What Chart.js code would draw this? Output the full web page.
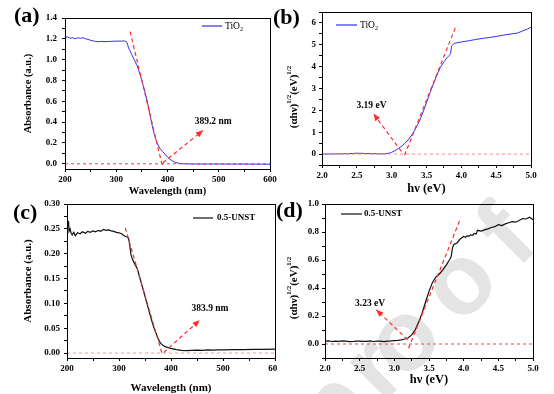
<!DOCTYPE html>
<html>
<head>
<meta charset="utf-8">
<script src="https://cdn.jsdelivr.net/npm/chart.js@4.4.1/dist/chart.umd.min.js"></script>
<style>
    body { margin: 0; background: #fff; }
    #wrap { position: relative; width: 554px; height: 394px; overflow: hidden; }
    canvas { position: absolute; }
</style>
</head>
<body>
<div id="wrap">
    <canvas id="cA" width="280" height="197" style="left:0px;top:0px"></canvas>
    <canvas id="cB" width="282" height="197" style="left:272px;top:0px"></canvas>
    <canvas id="cC" width="277" height="197" style="left:0px;top:197px"></canvas>
    <canvas id="cD" width="279" height="197" style="left:275px;top:197px"></canvas>
</div>
<script>
    // (a) TiO2 absorbance
    var waveA = [200, 205, 210, 215, 220, 225, 230, 235, 240, 245, 250, 255, 260, 265, 270, 280, 290, 300, 310, 316,
        320, 322, 324, 327, 330, 335, 340, 345, 350, 355, 360, 365, 370, 375, 380, 385, 390, 395, 400, 405,
        410, 415, 420, 425, 430, 440, 460, 480, 500, 530, 560, 600];
    var absA = [1.21, 1.22, 1.205, 1.21, 1.2, 1.21, 1.205, 1.21, 1.2, 1.195, 1.185, 1.18, 1.175, 1.172, 1.175, 1.173, 1.176, 1.178, 1.178, 1.18,
        1.172, 1.15, 1.11, 1.085, 1.05, 1.0, 0.95, 0.88, 0.80, 0.71, 0.61, 0.495, 0.37, 0.27, 0.195, 0.15, 0.12, 0.092, 0.065, 0.043,
        0.026, 0.014, 0.007, 0.003, 0.001, -0.001, -0.002, -0.002, -0.002, -0.003, -0.003, -0.004];
    var tangentA = [[327, 1.27], [390, -0.02]];
    var arrowA = [[391, 0.01], [469, 0.32]];
    var baseA = [[200, 0], [600, 0]];
    var noteA = [489, 0.41, '389.2 nm'];

    // (b) TiO2 Tauc plot
    var hvB = [2.0, 2.1, 2.2, 2.3, 2.4, 2.5, 2.6, 2.7, 2.8, 2.9, 2.95, 3.0, 3.05, 3.1, 3.15, 3.2, 3.25, 3.3, 3.35, 3.4,
        3.45, 3.5, 3.55, 3.6, 3.65, 3.7, 3.75, 3.8, 3.83, 3.845, 3.86, 3.9, 3.95, 4.0, 4.1, 4.2, 4.3, 4.4, 4.5, 4.6,
        4.7, 4.8, 4.9, 4.95, 5.0];
    var tauB = [0, 0, 0.01, 0.01, 0.02, 0.04, 0.03, 0.02, 0.01, 0.01, 0.03, 0.08, 0.16, 0.26, 0.38, 0.52, 0.7, 0.93, 1.2, 1.52,
        1.92, 2.35, 2.8, 3.22, 3.62, 3.97, 4.22, 4.43, 4.52, 4.6, 4.95, 5.06, 5.1, 5.13, 5.18, 5.24, 5.29, 5.33, 5.38, 5.44,
        5.49, 5.53, 5.66, 5.72, 5.8];
    var tangentB = [[3.185, -0.05], [3.92, 5.83]];
    var arrowB = [[3.14, 0.12], [2.74, 1.84]];
    var baseB = [[2.0, 0], [5.0, 0]];
    var noteB = [2.71, 2.22, '3.19 eV'];

    // (c) 0.5-UNST absorbance
    var waveC = [200, 201, 202, 203, 204, 206, 208, 210, 213, 216, 220, 225, 230, 235, 240, 245, 250, 255, 260, 265,
        270, 275, 280, 285, 290, 295, 300, 305, 310, 314, 317, 319, 321, 323, 326, 330, 335, 340, 345, 350,
        355, 360, 365, 370, 375, 378, 381, 385, 390, 395, 400, 410, 420, 430, 440, 450, 460, 470, 480, 490,
        500, 520, 540, 560, 580, 600];
    var absC = [0.248, 0.262, 0.255, 0.266, 0.245, 0.250, 0.241, 0.238, 0.243, 0.236, 0.242, 0.240, 0.244, 0.241, 0.245, 0.243, 0.246, 0.244, 0.247, 0.245,
        0.249, 0.247, 0.248, 0.246, 0.245, 0.243, 0.242, 0.240, 0.236, 0.234, 0.233, 0.228, 0.214, 0.198, 0.188, 0.180, 0.170, 0.152, 0.133, 0.114,
        0.095, 0.076, 0.058, 0.043, 0.030, 0.023, 0.019, 0.015, 0.0125, 0.011, 0.0095, 0.007, 0.0055, 0.0048, 0.0052, 0.0058, 0.0055, 0.0062, 0.006, 0.0065,
        0.0063, 0.007, 0.0068, 0.0075, 0.0072, 0.0078];
    var tangentC = [[312, 0.252], [383, -0.002]];
    var arrowC = [[386, 0.001], [455, 0.066]];
    var baseC = [[200, 0], [600, 0]];
    var noteC = [475, 0.090, '383.9 nm'];

    // (d) 0.5-UNST Tauc plot
    var hvD = [2.0, 2.05, 2.1, 2.15, 2.2, 2.25, 2.3, 2.35, 2.4, 2.45, 2.5, 2.55, 2.6, 2.65, 2.7, 2.75, 2.8, 2.85, 2.9, 2.95,
        3.0, 3.05, 3.1, 3.15, 3.2, 3.25, 3.3, 3.35, 3.4, 3.45, 3.5, 3.55, 3.6, 3.65, 3.7, 3.75, 3.8, 3.82, 3.84, 3.86,
        3.9, 3.95, 4.0, 4.03, 4.05, 4.08, 4.1, 4.13, 4.15, 4.18, 4.2, 4.25, 4.3, 4.35, 4.4, 4.45, 4.5, 4.55, 4.6, 4.65,
        4.7, 4.75, 4.8, 4.85, 4.9, 4.95, 5.0];
    var tauD = [0.02, 0.022, 0.018, 0.021, 0.019, 0.022, 0.02, 0.017, 0.018, 0.021, 0.021, 0.019, 0.019, 0.022, 0.018, 0.02, 0.02, 0.017, 0.021, 0.022,
        0.024, 0.026, 0.03, 0.036, 0.045, 0.065, 0.10, 0.155, 0.22, 0.30, 0.375, 0.44, 0.48, 0.50, 0.53, 0.565, 0.605, 0.625, 0.69, 0.712,
        0.72, 0.75, 0.768, 0.762, 0.772, 0.77, 0.78, 0.776, 0.79, 0.785, 0.812, 0.806, 0.815, 0.822, 0.832, 0.838, 0.852, 0.846, 0.858, 0.866,
        0.874, 0.87, 0.882, 0.896, 0.893, 0.905, 0.888];
    var tangentD = [[3.205, -0.03], [3.95, 0.89]];
    var arrowD = [[3.19, 0.03], [2.74, 0.245]];
    var baseD = [[2.0, 0], [5.0, 0]];
    var noteD = [2.65, 0.292, '3.23 eV'];

    // tick labels
    var ticksWave = [200, 300, 400, 500, 600];
    var ticksHv = [2.0, 2.5, 3.0, 3.5, 4.0, 4.5, 5.0];
    var ticksYA = [0, 0.2, 0.4, 0.6, 0.8, 1.0, 1.2, 1.4];
    var ticksYB = [0, 1, 2, 3, 4, 5, 6];
    var ticksYC = [0, 0.05, 0.10, 0.15, 0.20, 0.25, 0.30];
    var ticksYD = [0, 0.2, 0.4, 0.6, 0.8, 1.0];

    var SERIF = '"Liberation Serif", "Times New Roman", serif';
    var RED = '#ff2b2b';

    function pts(xs, ys) {
        return xs.map(function (x, i) { return { x: x, y: ys[i] }; });
    }
    function pairs(arr) {
        return arr.map(function (p) { return { x: p[0], y: p[1] }; });
    }

    function tickLabel(list, dec) {
        return function (value) {
            for (var i = 0; i < list.length; i++) {
                if (Math.abs(list[i] - value) < 1e-6) return value.toFixed(dec);
            }
            return '';
        };
    }

    function arrowHead(ctx, x0, y0, x1, y1, color) {
        var a = Math.atan2(y1 - y0, x1 - x0), L = 7, W = 3;
        ctx.save();
        ctx.fillStyle = color;
        ctx.beginPath();
        ctx.moveTo(x1, y1);
        ctx.lineTo(x1 - L * Math.cos(a) + W * Math.sin(a), y1 - L * Math.sin(a) - W * Math.cos(a));
        ctx.lineTo(x1 - L * Math.cos(a) - W * Math.sin(a), y1 - L * Math.sin(a) + W * Math.cos(a));
        ctx.closePath();
        ctx.fill();
        ctx.restore();
    }

    function supTitle(ctx, x, y, size) {
        var parts = [['(\u03b1h\u03bd)', 0], ['1/2', 1], ['(eV)', 0], ['1/2', 1]];
        var big = 'bold ' + size + 'px ' + SERIF, small = 'bold ' + Math.round(size * 0.6) + 'px ' + SERIF;
        ctx.save();
        ctx.translate(x, y);
        ctx.rotate(-Math.PI / 2);
        var w = 0;
        parts.forEach(function (p) { ctx.font = p[1] ? small : big; w += ctx.measureText(p[0]).width; });
        var cx = -w / 2;
        ctx.fillStyle = '#000';
        ctx.textBaseline = 'middle';
        parts.forEach(function (p) {
            ctx.font = p[1] ? small : big;
            ctx.fillText(p[0], cx, p[1] ? -size * 0.4 : 0);
            cx += ctx.measureText(p[0]).width;
        });
        ctx.restore();
    }

    // frame, arrow heads, notes, legend, panel letter
    function decor(spec) {
        return {
            id: 'decor',
            beforeDraw: function (chart) {
                if (!spec.watermark) return;
                var ctx = chart.ctx;
                ctx.save();
                ctx.translate(spec.watermark[0], spec.watermark[1]);
                ctx.rotate(-Math.PI / 4);
                ctx.fillStyle = '#e4e4e4';
                ctx.font = 'bold 100px "Liberation Sans", Arial, sans-serif';
                ctx.textAlign = 'center';
                ctx.textBaseline = 'alphabetic';
                var letters = [['p', -139], ['r', -81], ['o', -40], ['o', 40], ['f', 107]];
                letters.forEach(function (l) { ctx.fillText(l[0], l[1], 26); });
                ctx.restore();
            },
            afterDraw: function (chart) {
                var ctx = chart.ctx, ca = chart.chartArea;
                var xs = chart.scales.x, ys = chart.scales.y;
                ctx.save();
                ctx.strokeStyle = '#000';
                ctx.lineWidth = 1;
                ctx.strokeRect(Math.round(ca.left) + 0.5, Math.round(ca.top) + 0.5,
                    Math.round(ca.right - ca.left), Math.round(ca.bottom - ca.top));

                var a = spec.arrow;
                arrowHead(ctx, xs.getPixelForValue(a[0][0]), ys.getPixelForValue(a[0][1]),
                    xs.getPixelForValue(a[1][0]), ys.getPixelForValue(a[1][1]), RED);

                ctx.fillStyle = '#000';
                ctx.font = 'bold 9.5px ' + SERIF;
                ctx.textAlign = 'center';
                ctx.textBaseline = 'middle';
                ctx.fillText(spec.note[2], xs.getPixelForValue(spec.note[0]), ys.getPixelForValue(spec.note[1]));

                var lg = spec.legend;
                ctx.strokeStyle = spec.color;
                ctx.lineWidth = 1.2;
                ctx.beginPath();
                ctx.moveTo(lg.x0, lg.y);
                ctx.lineTo(lg.x1, lg.y);
                ctx.stroke();
                ctx.fillStyle = '#000';
                ctx.textAlign = 'left';
                ctx.font = lg.font;
                ctx.fillText(lg.text, lg.tx, lg.y);
                if (lg.sub) {
                    var w = ctx.measureText(lg.text).width;
                    ctx.font = '6px ' + SERIF;
                    ctx.fillText(lg.sub, lg.tx + w, lg.y + 3);
                }

                ctx.font = 'bold 22px ' + SERIF;
                ctx.fillText(spec.letter[0], spec.letter[1], spec.letter[2]);

                if (spec.supTitle) supTitle(ctx, spec.supTitle[0], spec.supTitle[1], 11);
                ctx.restore();
            }
        };
    }

    function makePanel(id, p) {
        var datasets = [
            { data: pairs(p.tangent), borderColor: RED, borderWidth: 1.2, borderDash: [4, 3], order: 0 },
            { data: pairs(p.arrow), borderColor: RED, borderWidth: 1.2, borderDash: [4, 3], order: 0 },
            { data: pairs(p.base), borderColor: p.baseColor, borderWidth: 1, borderDash: [3, 3], order: 0 },
            { data: pts(p.xs, p.ys), borderColor: p.color, borderWidth: p.lineWidth, order: 1 }
        ];
        var yTitle = p.yTitle ? {
            display: true, text: p.yTitle, color: '#000',
            font: { family: SERIF, size: p.yTitleSize, weight: 'bold' },
            padding: { top: p.yTitlePad, bottom: 0 }
        } : { display: false };

        new Chart(document.getElementById(id), {
            type: 'line',
            data: { datasets: datasets },
            options: {
                responsive: false,
                animation: false,
                events: [],
                layout: { padding: { left: 0, right: p.padRight, top: p.padTop, bottom: 0 } },
                elements: { point: { radius: 0 }, line: { tension: 0 } },
                plugins: { legend: { display: false }, tooltip: { enabled: false } },
                scales: {
                    x: {
                        type: 'linear', min: p.xMin, max: p.xMax,
                        grid: { drawOnChartArea: false, color: '#000', tickLength: 3 },
                        border: { color: '#000', width: 1 },
                        ticks: {
                            stepSize: p.xStep, autoSkip: false, maxRotation: 0, includeBounds: false,
                            padding: 2, color: '#000',
                            font: { family: SERIF, size: 9, weight: 'bold' },
                            callback: tickLabel(p.xTicks, p.xDec)
                        },
                        title: {
                            display: true, text: p.xTitle, color: '#000',
                            font: { family: SERIF, size: p.xTitleSize, weight: 'bold' },
                            padding: { top: 0, bottom: p.xTitlePad }
                        },
                        afterFit: function (s) { s.height = p.xH; s.paddingLeft = 0; s.paddingRight = 0; }
                    },
                    y: {
                        type: 'linear', min: p.yMin, max: p.yMax,
                        grid: { drawOnChartArea: false, color: '#000', tickLength: 3 },
                        border: { color: '#000', width: 1 },
                        ticks: {
                            stepSize: p.yStep, autoSkip: false, includeBounds: false,
                            padding: p.yTickPad, color: '#000',
                            font: { family: SERIF, size: 9, weight: 'bold' },
                            callback: tickLabel(p.yTicks, p.yDec)
                        },
                        title: yTitle,
                        afterFit: function (s) { s.width = p.yW; s.paddingTop = 0; s.paddingBottom = 0; }
                    }
                }
            },
            plugins: [decor(p)]
        });
    }

    makePanel('cA', {
        xs: waveA, ys: absA, color: '#3030ff', lineWidth: 1, baseColor: '#ff3a3a',
        tangent: tangentA, arrow: arrowA, base: baseA, note: noteA,
        xMin: 200, xMax: 600, xStep: 50, xTicks: ticksWave, xDec: 0,
        yMin: -0.05, yMax: 1.4, yStep: 0.1, yTicks: ticksYA, yDec: 1,
        xTitle: 'Wavelength (nm)', xTitleSize: 10.5, xTitlePad: -1,
        yTitle: 'Absorbance (a.u.)', yTitleSize: 10.5, yTitlePad: 21.7, yTickPad: 5,
        yW: 65, xH: 28, padTop: 18, padRight: 10,
        legend: { x0: 202, x1: 222, y: 26, tx: 225, text: 'TiO', sub: '2', font: '9.5px ' + SERIF },
        letter: ['(a)', 14, 16]
    });

    makePanel('cB', {
        xs: hvB, ys: tauB, color: '#3030ff', lineWidth: 1, baseColor: '#ff8c8c',
        tangent: tangentB, arrow: arrowB, base: baseB, note: noteB,
        xMin: 2, xMax: 5, xStep: 0.25, xTicks: ticksHv, xDec: 1,
        yMin: -0.5, yMax: 6.5, yStep: 0.5, yTicks: ticksYB, yDec: 0,
        xTitle: 'h\u03bd (eV)', xTitleSize: 12.5, xTitlePad: 1,
        yTitle: null, yTickPad: 3, supTitle: [22, 97],
        yW: 50, xH: 32, padTop: 12, padRight: 23,
        legend: { x0: 64, x1: 85, y: 25, tx: 88, text: 'TiO', sub: '2', font: '9.5px ' + SERIF },
        letter: ['(b)', 1, 18]
    });

    makePanel('cC', {
        xs: waveC, ys: absC, color: '#111111', lineWidth: 1.2, baseColor: '#ff9a9a',
        tangent: tangentC, arrow: arrowC, base: baseC, note: noteC,
        xMin: 200, xMax: 600, xStep: 50, xTicks: ticksWave, xDec: 0,
        yMin: -0.01, yMax: 0.30, yStep: 0.025, yTicks: ticksYC, yDec: 2,
        xTitle: 'Wavelength (nm)', xTitleSize: 11, xTitlePad: -1,
        yTitle: 'Absorbance (a.u.)', yTitleSize: 11, yTitlePad: 21.7, yTickPad: 4,
        yW: 67, xH: 36, padTop: 7, padRight: 2,
        legend: { x0: 193, x1: 213, y: 21, tx: 217, text: '0.5-UNST', font: 'bold 9px ' + SERIF },
        letter: ['(c)', 13, 16]
    });

    makePanel('cD', {
        xs: hvD, ys: tauD, color: '#111111', lineWidth: 1.2, baseColor: '#ff4040',
        tangent: tangentD, arrow: arrowD, base: baseD, note: noteD,
        xMin: 2, xMax: 5, xStep: 0.25, xTicks: ticksHv, xDec: 1,
        yMin: -0.1, yMax: 1.0, yStep: 0.1, yTicks: ticksYD, yDec: 1,
        xTitle: 'h\u03bd (eV)', xTitleSize: 12.5, xTitlePad: 7,
        yTitle: null, yTickPad: 3, supTitle: [19, 91],
        yW: 50, xH: 36, padTop: 7, padRight: 21,
        legend: { x0: 66, x1: 87, y: 17, tx: 89, text: '0.5-UNST', font: 'bold 9px ' + SERIF },
        letter: ['(d)', 1, 14],
        watermark: [160, 118]
    });
</script>
</body>
</html>
